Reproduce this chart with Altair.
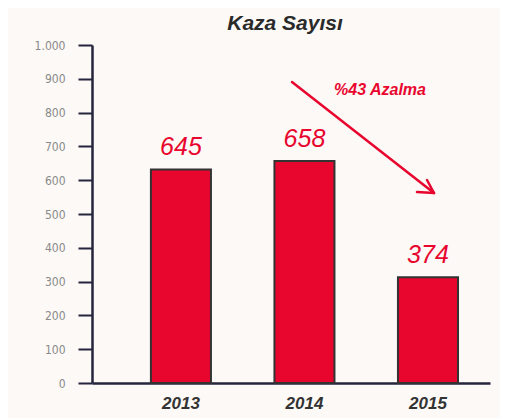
import altair as alt
import pandas as pd

years = ["2013", "2014", "2015"]
bar_heights = [632, 657, 313]
label_texts = ["645", "658", "374"]
title_text = "Kaza Sayısı"
note_text = "%43 Azalma"
y_ticks = [0, 100, 200, 300, 400, 500, 600, 700, 800, 900, 1000]

RED = "#e8062f"
DARK = "#25253d"
W, H = 398, 338

df = pd.DataFrame({"year": years, "value": bar_heights, "label": label_texts})

x_scale = alt.Scale(paddingInner=0.514, paddingOuter=0.368, align=0.648)
y_scale = alt.Scale(domain=[0, 1000], nice=False)

x_axis = alt.Axis(title=None, ticks=False, labelAngle=0, labelPadding=12,
                  labelFont="Liberation Sans", labelFontStyle="italic",
                  labelFontWeight="bold", labelFontSize=17, labelColor="#333333",
                  domainColor=DARK, domainWidth=2.5)

base = alt.Chart(df)

bars = base.mark_bar(color=RED, stroke="#333333", strokeWidth=2).encode(
    x=alt.X("year:N", scale=x_scale, sort=years, axis=x_axis),
    y=alt.Y("value:Q", scale=y_scale,
            axis=alt.Axis(title=None, values=y_ticks, grid=False, tickSize=14,
                          tickColor=DARK, tickWidth=2, domainColor=DARK, domainWidth=2.5,
                          labelPadding=13, labelFont="DejaVu Sans Condensed",
                          labelFontSize=12, labelColor="#8a8a8a", labelOverlap=False,
                          labelExpr="replace(format(datum.value, ','), ',', '.')")),
)

labels = base.mark_text(baseline="bottom", dy=-9, color=RED, fontSize=25,
                        font="Liberation Sans", fontStyle="italic").encode(
    x=alt.X("year:N", scale=x_scale, sort=years, axis=x_axis),
    y=alt.Y("value:Q", scale=y_scale, axis=None),
    text="label:N",
)

arrow_df = pd.DataFrame({
    "x1": [200, 342, 342], "y1": [37, 148, 148],
    "x2": [342, 325, 335], "y2": [148, 147, 135],
})
arrow = alt.Chart(arrow_df).mark_rule(color=RED, strokeWidth=2.5, strokeCap="round").encode(
    x=alt.X("x1:Q", scale=None, axis=None), y=alt.Y("y1:Q", scale=None, axis=None),
    x2="x2:Q", y2="y2:Q",
)

note = alt.Chart(pd.DataFrame({"t": [note_text]})).mark_text(
    color=RED, fontSize=16, font="Liberation Sans", fontStyle="italic", fontWeight="bold"
).encode(x=alt.value(288), y=alt.value(45), text="t:N")

chart = alt.layer(bars, labels, arrow, note).resolve_axis(y="independent").properties(
    width=W, height=H,
    title=alt.TitleParams(title_text, font="Liberation Sans", fontSize=21,
                          fontStyle="italic", fontWeight="bold", color="#2a2a2a",
                          offset=5, anchor="middle", dx=-6),
    autosize=alt.AutoSizeParams(type="none"),
    padding={"left": 84, "top": 37, "right": 10, "bottom": 35},
    background="#fcf9f6",
).configure_view(stroke=None)

chart.save("out.html", embed_options={"renderer": "svg", "actions": False})
